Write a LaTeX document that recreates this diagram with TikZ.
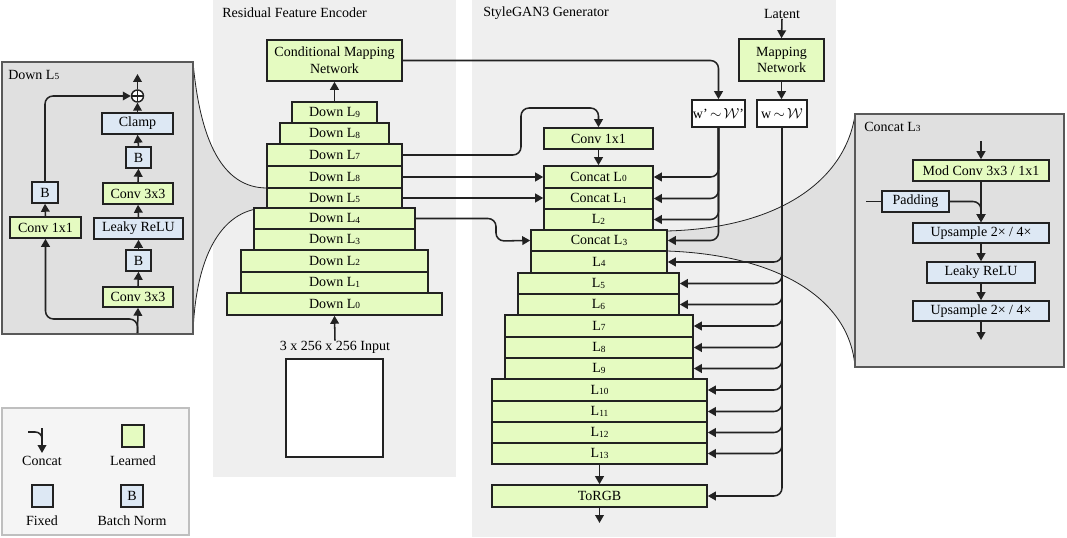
\documentclass[tikz,border=0pt]{standalone}
\usepackage{fontspec}
\setmainfont{Liberation Serif}
\usetikzlibrary{arrows.meta,calc}
\definecolor{lgreen}{HTML}{E5FBC1}
\definecolor{lblue}{HTML}{DDE8F4}
\definecolor{pgray}{HTML}{E0E0E0}
\definecolor{bgray}{HTML}{EFEFEF}
\definecolor{legbg}{HTML}{F5F5F5}
\definecolor{ink}{HTML}{222222}
\newcommand\lsub[1]{\raisebox{-0.4pt}{\fontsize{7}{7}\selectfont #1}}
\newcommand\bx[7]{\node[#6, minimum width={(#4-#2)*0.75pt}, minimum height={(#5-#3)*0.75pt}] (#1) at ({(#2+#4)/2},{(#3+#5)/2}) {#7};}
\tikzset{
  box/.style={draw=ink, line width=1.15pt, inner sep=0pt, font=\fontsize{10.5}{12.5}\selectfont},
  learned/.style={box, fill=lgreen},
  fixed/.style={box, fill=lblue},
  plain/.style={box, fill=white},
  arr/.style={draw=ink, line width=1.15pt, -{Triangle[length=6pt,width=6.5pt]}},
  ln/.style={draw=ink, line width=1.15pt},
  lbl/.style={inner sep=0pt, font=\fontsize{10.5}{12.5}\selectfont},
  funnel/.style={draw=ink, line width=0.6pt},
  panel/.style={fill=pgray, draw=black!65, line width=1.1pt},
}
\begin{document}
\begin{tikzpicture}[x=0.75pt,y=-0.75pt]
\useasboundingbox (0,0) rectangle (1067,538);
% backgrounds
\fill[bgray] (213,0) rectangle (456,477);
\fill[bgray] (472,0) rectangle (836,537);
% funnels
\fill[pgray] (193,62) .. controls (200,140) and (222,188) .. (267,188) -- (267,208) .. controls (225,208) and (196,250) .. (193,333) -- cycle;
\draw[funnel] (193,62) .. controls (200,140) and (222,188) .. (267,188);
\draw[funnel] (267,208) .. controls (225,208) and (196,250) .. (193,333);
\fill[pgray] (667,231) .. controls (780,228) and (845,180) .. (855,115) -- (855,367) .. controls (850,300) and (780,255) .. (667,251) -- cycle;
\draw[funnel] (667,231) .. controls (780,228) and (845,180) .. (855,115);
\draw[funnel] (667,251) .. controls (780,255) and (850,300) .. (855,367);
% side panels and legend
\draw[panel] (2,62) rectangle (193,334);
\draw[panel] (855,114) rectangle (1064,367);
\draw[fill=legbg, draw=black!25, line width=1pt] (2,408) rectangle (189,535);
% titles
\node[lbl, anchor=west] (tenc) at (222,13) {Residual Feature Encoder};
\node[lbl, anchor=west] (tgen) at (483,13) {StyleGAN3 Generator};
\node[lbl, anchor=west] (tleft) at (8,75) {Down L\lsub{5}};
\node[lbl, anchor=west] (tright) at (864,127) {Concat L\lsub{3}};
\node[lbl] (lat) at (782,14) {Latent};
% encoder
\bx{cmn}{267}{40}{402}{81}{learned, align=center}{Conditional Mapping\\Network}
\bx{e9}{292}{102}{377}{123}{learned}{Down L\lsub{9}}
\bx{e8}{280}{123}{389}{144}{learned}{Down L\lsub{8}}
\bx{e7}{267}{144}{402}{166}{learned}{Down L\lsub{7}}
\bx{e6}{267}{166}{402}{188}{learned}{Down L\lsub{8}}
\bx{e5}{267}{188}{402}{208}{learned}{Down L\lsub{5}}
\bx{e4}{254}{208}{415}{229}{learned}{Down L\lsub{4}}
\bx{e3}{254}{229}{415}{250}{learned}{Down L\lsub{3}}
\bx{e2}{241}{250}{428}{272}{learned}{Down L\lsub{2}}
\bx{e1}{241}{272}{428}{293}{learned}{Down L\lsub{1}}
\bx{e0}{227}{293}{442}{315}{learned}{Down L\lsub{0}}
\node[lbl] (inl) at (335,347) {3 x 256 x 256 Input};
\bx{inbox}{286}{359}{383}{457}{plain}{}
% generator
\bx{conv}{544}{128}{653}{149}{learned}{Conv 1x1}
\bx{c0}{544}{166}{653}{188}{learned}{Concat L\lsub{0}}
\bx{c1}{544}{188}{653}{209}{learned}{Concat L\lsub{1}}
\bx{c2}{544}{209}{653}{230}{learned}{L\lsub{2}}
\bx{c3}{531}{230}{667}{251}{learned}{Concat L\lsub{3}}
\bx{g4}{531}{251}{667}{273}{learned}{L\lsub{4}}
\bx{g5}{518}{273}{679}{294}{learned}{L\lsub{5}}
\bx{g6}{518}{294}{679}{315}{learned}{L\lsub{6}}
\bx{g7}{505}{315}{693}{337}{learned}{L\lsub{7}}
\bx{g8}{505}{337}{693}{358}{learned}{L\lsub{8}}
\bx{g9}{505}{358}{693}{379}{learned}{L\lsub{9}}
\bx{g10}{492}{379}{707}{401}{learned}{L\lsub{10}}
\bx{g11}{492}{401}{707}{422}{learned}{L\lsub{11}}
\bx{g12}{492}{422}{707}{443}{learned}{L\lsub{12}}
\bx{g13}{492}{443}{707}{464}{learned}{L\lsub{13}}
\bx{torgb}{492}{485}{707}{507}{learned}{ToRGB}
\coordinate (gout) at (599.5,523);
\bx{map}{739}{39}{824}{81}{learned, align=center}{Mapping\\Network}
\bx{w}{757}{100}{807}{127}{plain}{w\,$\sim$\,$\mathcal{W}$}
\bx{wp}{692}{100}{745}{127}{plain}{w\textquoteright\,$\sim$\,$\mathcal{W}$\textquoteright}
% left panel
\node[draw=ink, line width=1.1pt, fill=white, circle, inner sep=0pt, minimum size=9pt,
  path picture={\draw[ink, line width=0.8pt] (path picture bounding box.north) -- (path picture bounding box.south) (path picture bounding box.west) -- (path picture bounding box.east);}] (plus) at (137.5,96) {};
\coordinate (lout) at (137.5,74);
\bx{clamp}{102}{113}{173}{134}{fixed}{Clamp}
\bx{lb1}{126}{147}{151}{168}{fixed}{B}
\bx{lc2}{103}{183}{173}{204}{learned}{Conv 3x3}
\bx{lrelu}{94}{218}{183}{239}{fixed}{Leaky ReLU}
\bx{lb2}{126}{250}{151}{271}{fixed}{B}
\bx{lc1}{103}{287}{173}{307}{learned}{Conv 3x3}
\bx{lconv}{10}{217}{81}{238}{learned}{Conv 1x1}
\bx{lb}{32}{182}{58}{203}{fixed}{B}
\coordinate (lin) at (137.5,333);
\coordinate (lsplit) at (137.5,319);
% right panel
\coordinate (rin) at (981,141);
\bx{mod}{913}{160}{1049}{181}{learned}{Mod Conv 3x3 / 1x1}
\bx{pad}{882}{191}{949}{212}{fixed}{Padding}
\coordinate (padin) at (866,201.5);
\bx{up1}{913}{223}{1049}{243}{fixed}{Upsample 2× / 4×}
\bx{rrelu}{927}{262}{1035}{283}{fixed}{Leaky ReLU}
\bx{up2}{913}{301}{1049}{321}{fixed}{Upsample 2× / 4×}
\coordinate (rout) at (981,340);
% legend
\coordinate (lgA) at (28,432);
\coordinate (lgB) at (42,428);
\coordinate (lgC) at (42,453);
\node[lbl] (lgt1) at (42,461) {Concat};
\bx{ll}{122}{425}{144}{447}{learned}{}
\node[lbl] (lgt2) at (133,461) {Learned};
\bx{lf}{32}{485}{53}{507}{fixed}{}
\node[lbl] (lgt3) at (42,521) {Fixed};
\bx{lbn}{121}{485}{143}{507}{fixed}{B}
\node[lbl] (lgt4) at (132,521) {Batch Norm};
% ---- connectors: encoder
\draw[arr] (e9.north) -- (e9.north |- cmn.south);
\draw[arr] (inl.north) -- (e0.south);
% encoder -> generator
\coordinate (k1) at (521,108);
\draw[arr, rounded corners=6] (e7.east) -| (k1) -| (conv.north);
\draw[arr] (e6.east) -- (e6.east -| c0.west);
\draw[arr] (e5.east) -- (e5.east -| c1.west);
\coordinate (k2) at (496,241);
\draw[arr, rounded corners=6] (e4.east) -| (k2) -- (c3.west);
\draw[arr, rounded corners=6] (cmn.east) -| (wp.north);
% generator
\draw[arr] (conv.south) -- (conv.south |- c0.north);
\draw[arr] (g13.south) -- (g13.south |- torgb.north);
\draw[arr] (torgb.south) -- (gout);
\draw[arr] (lat.south) -- (map.north);
\draw[arr] (map.south) -- (map.south |- w.north);
\foreach \n in {c0,c1,c2,c3} \draw[arr, rounded corners=6] (wp.south) |- (\n.east);
\foreach \n in {g4,g5,g6,g7,g8,g9,g10,g11,g12,g13,torgb} \draw[arr, rounded corners=6] (w.south) |- (\n.east);
% left panel
\draw[arr] (lin) -- (lc1.south);
\draw[arr, rounded corners=6] (lin) -- (lsplit) -| (lconv.south);
\draw[arr] (lc1.north) -- (lb2.south);
\draw[arr] (lb2.north) -- (lrelu.south);
\draw[arr] (lrelu.north) -- (lc2.south);
\draw[arr] (lc2.north) -- (lb1.south);
\draw[arr] (lb1.north) -- (clamp.south);
\draw[arr] (clamp.north) -- (plus.south);
\draw[arr] (plus.north) -- (lout);
\draw[arr] (lconv.north) -- (lb.south);
\draw[arr, rounded corners=6] (lb.north) |- (plus.west);
% right panel
\draw[arr] (rin) -- (mod.south |- mod.north);
\draw[ln] (padin) -- (pad.west);
\draw[arr] (mod.south) -- (mod.south |- up1.north);
\draw[arr, rounded corners=6] (pad.east) -| (mod.south |- up1.north);
\draw[arr] (up1.south) -- (up1.south |- rrelu.north);
\draw[arr] (rrelu.south) -- (rrelu.south |- up2.north);
\draw[arr] (up2.south) -- (rout);
% legend concat icon
\draw[arr] (lgB) -- (lgC);
\draw[ln, rounded corners=5] (lgA) -| (42,444);
\end{tikzpicture}
\end{document}
